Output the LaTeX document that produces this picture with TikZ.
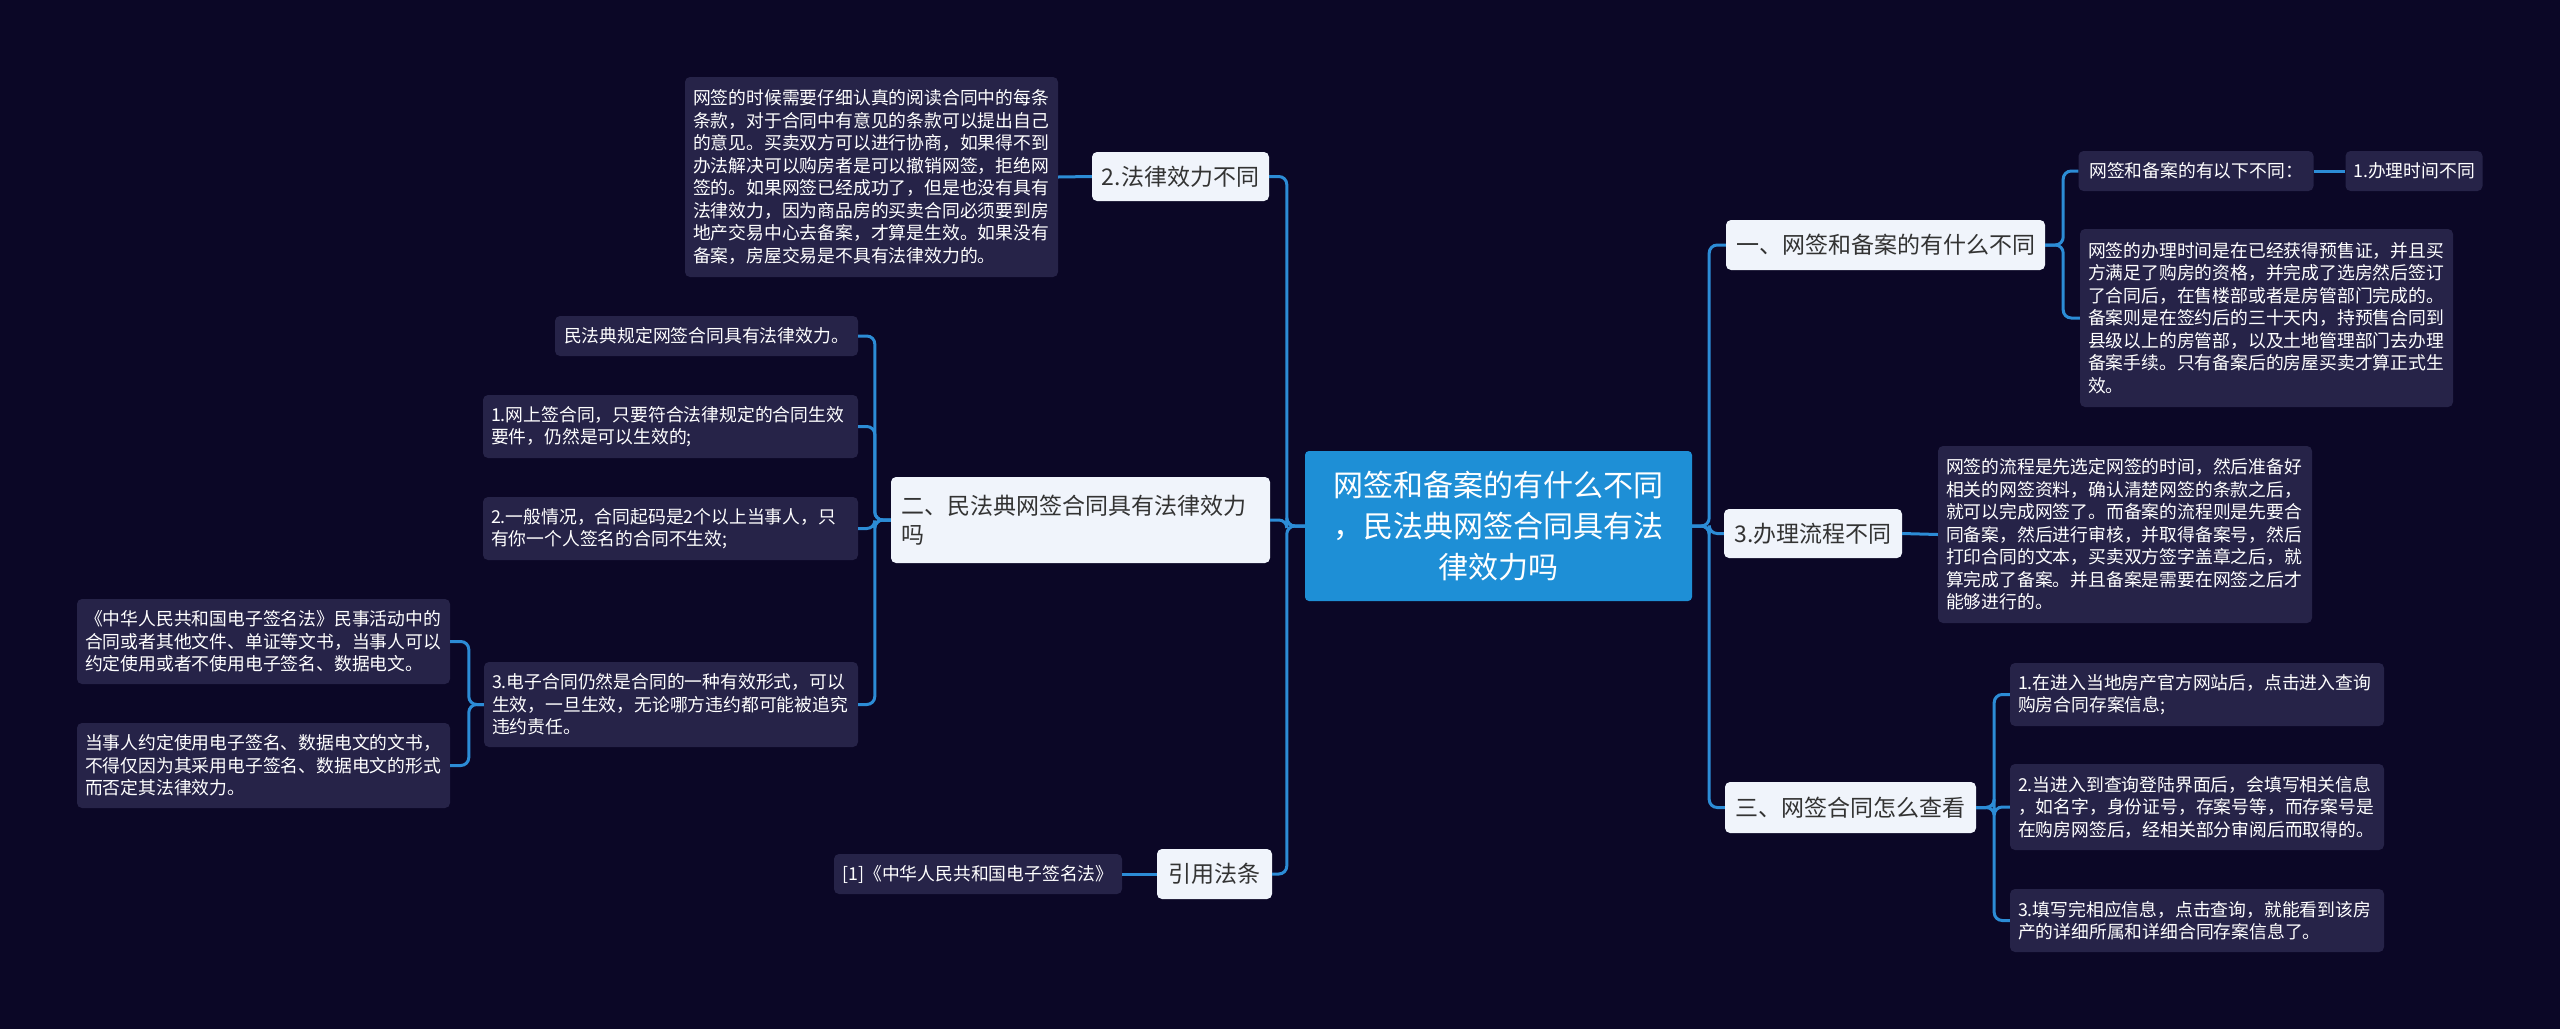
\documentclass[tikz,border=0pt]{standalone}
\usepackage{fontspec}
\setmainfont{Noto Sans CJK SC}
\usepackage{tikz}
\usetikzlibrary{calc}

\definecolor{sfondo}{RGB}{11,7,38}
\definecolor{blu}{RGB}{30,143,214}
\definecolor{azzurro}{RGB}{44,140,214}
\definecolor{chiaro}{RGB}{240,244,251}
\definecolor{scuro}{RGB}{51,51,51}
\definecolor{viola}{RGB}{38,35,72}

\begin{document}
\begin{tikzpicture}[x=1pt,y=-1pt,
  radice/.style={fill=blu, text=white, rounded corners=4pt, align=center, inner sep=0pt, font=\fontsize{30}{41}\selectfont},
  ramo/.style={fill=chiaro, text=scuro, rounded corners=5pt, align=left, inner xsep=10pt, inner ysep=0pt, font=\fontsize{23}{29}\selectfont},
  foglia/.style={fill=viola, text=white, rounded corners=5pt, align=left, inner xsep=8pt, inner ysep=0pt, font=\fontsize{17.8}{22.5}\selectfont},
  linea/.style={draw=azzurro, line width=3pt, rounded corners=8pt}]

  % sfondo
  \fill[sfondo] (0,0) rectangle (2560,1029);
  \useasboundingbox (0,0) rectangle (2560,1029);

  % nodo centrale
  \node[radice, minimum width=387pt, minimum height=150pt, text width=350pt] (radice) at (1498.5,526)
    {网签和备案的有什么不同\\，民法典网签合同具有法\\律效力吗};

  % rami a destra
  \node[ramo, minimum width=319pt, minimum height=50pt, inner xsep=0pt] (b1) at (1885.5,245) {一、网签和备案的有什么不同};
  \node[ramo, minimum width=178pt, minimum height=49pt, inner xsep=0pt] (b3) at (1813,533.5) {3.办理流程不同};
  \node[ramo, minimum width=251pt, minimum height=51pt, inner xsep=0pt] (b4) at (1850.5,807.5) {三、网签合同怎么查看};

  % rami a sinistra
  \node[ramo, minimum width=177pt, minimum height=49pt, inner xsep=0pt] (b2) at (1180.5,176.5) {2.法律效力不同};
  \node[ramo, text width=359pt, minimum height=86pt] (b5) at (1080.5,520) {二、民法典网签合同具有法律效力\\吗};
  \node[ramo, minimum width=115pt, minimum height=50pt, inner xsep=0pt] (b6) at (1214.5,874) {引用法条};

  % foglie a destra
  \node[foglia, minimum width=235pt, minimum height=40pt] (l1) at (2196,171) {网签和备案的有以下不同：};
  \node[foglia, minimum width=137pt, minimum height=40pt, inner xsep=0pt] (l1a) at (2414,171) {1.办理时间不同};
  \node[foglia, text width=357pt, minimum height=178pt] (l2) at (2266.5,318)
    {网签的办理时间是在已经获得预售证，并且买\\方满足了购房的资格，并完成了选房然后签订\\了合同后，在售楼部或者是房管部门完成的。\\备案则是在签约后的三十天内，持预售合同到\\县级以上的房管部，以及土地管理部门去办理\\备案手续。只有备案后的房屋买卖才算正式生\\效。};
  \node[foglia, text width=358pt, minimum height=177pt] (l3) at (2125,534.5)
    {网签的流程是先选定网签的时间，然后准备好\\相关的网签资料，确认清楚网签的条款之后，\\就可以完成网签了。而备案的流程则是先要合\\同备案，然后进行审核，并取得备案号，然后\\打印合同的文本，买卖双方签字盖章之后，就\\算完成了备案。并且备案是需要在网签之后才\\能够进行的。};
  \node[foglia, text width=358pt, minimum height=63pt] (l4) at (2197,694.5)
    {1.在进入当地房产官方网站后，点击进入查询\\购房合同存案信息;};
  \node[foglia, text width=358pt, minimum height=86pt] (l5) at (2197,807)
    {2.当进入到查询登陆界面后，会填写相关信息\\，如名字，身份证号，存案号等，而存案号是\\在购房网签后，经相关部分审阅后而取得的。};
  \node[foglia, text width=358pt, minimum height=63pt] (l6) at (2197,920.5)
    {3.填写完相应信息，点击查询，就能看到该房\\产的详细所属和详细合同存案信息了。};

  % foglie a sinistra
  \node[foglia, text width=357pt, minimum height=200pt] (k1) at (871.5,177)
    {网签的时候需要仔细认真的阅读合同中的每条\\条款，对于合同中有意见的条款可以提出自己\\的意见。买卖双方可以进行协商，如果得不到\\办法解决可以购房者是可以撤销网签，拒绝网\\签的。如果网签已经成功了，但是也没有具有\\法律效力，因为商品房的买卖合同必须要到房\\地产交易中心去备案，才算是生效。如果没有\\备案，房屋交易是不具有法律效力的。};
  \node[foglia, minimum width=303pt, minimum height=40pt] (m1) at (706.5,336) {民法典规定网签合同具有法律效力。};
  \node[foglia, text width=359pt, minimum height=63pt] (m2) at (670.5,426.5)
    {1.网上签合同，只要符合法律规定的合同生效\\要件，仍然是可以生效的;};
  \node[foglia, text width=359pt, minimum height=63pt] (m3) at (670.5,528.5)
    {2.一般情况，合同起码是2个以上当事人，只\\有你一个人签名的合同不生效;};
  \node[foglia, text width=358pt, minimum height=85pt] (m4) at (671,704.5)
    {3.电子合同仍然是合同的一种有效形式，可以\\生效，一旦生效，无论哪方违约都可能被追究\\违约责任。};
  \node[foglia, text width=357pt, minimum height=85pt] (n1) at (263.5,641.5)
    {《中华人民共和国电子签名法》民事活动中的\\合同或者其他文件、单证等文书，当事人可以\\约定使用或者不使用电子签名、数据电文。};
  \node[foglia, text width=357pt, minimum height=85pt] (n2) at (263.5,765.5)
    {当事人约定使用电子签名、数据电文的文书，\\不得仅因为其采用电子签名、数据电文的形式\\而否定其法律效力。};
  \node[foglia, minimum width=288pt, minimum height=40pt] (r1) at (978,874) {[1]《中华人民共和国电子签名法》};

  % collegamenti a destra
  \draw[linea] (radice.east) -- ++(17,0) |- (b1.west);
  \draw[linea] (radice.east) -- ++(17,0) |- (b3.west);
  \draw[linea] (radice.east) -- ++(17,0) |- (b4.west);
  \draw[linea] (b1.east) -- ++(18,0) |- (l1.west);
  \draw[linea] (b1.east) -- ++(18,0) |- (l2.west);
  \draw[linea] (l1.east) -- (l1a.west);
  \draw[linea] (b3.east) -- (l3.west);
  \draw[linea] (b4.east) -- ++(18,0) |- (l4.west);
  \draw[linea] (b4.east) -- ++(18,0) |- (l5.west);
  \draw[linea] (b4.east) -- ++(18,0) |- (l6.west);

  % collegamenti a sinistra
  \draw[linea] (radice.west) -- ++(-18,0) |- (b2.east);
  \draw[linea] (radice.west) -- ++(-18,0) |- (b5.east);
  \draw[linea] (radice.west) -- ++(-18,0) |- (b6.east);
  \draw[linea] (b2.west) -- (k1.east);
  \draw[linea] (b5.west) -- ++(-16,0) |- (m1.east);
  \draw[linea] (b5.west) -- ++(-16,0) |- (m2.east);
  \draw[linea] (b5.west) -- ++(-16,0) |- (m3.east);
  \draw[linea] (b5.west) -- ++(-16,0) |- (m4.east);
  \draw[linea] (m4.west) -- ++(-15,0) |- (n1.east);
  \draw[linea] (m4.west) -- ++(-15,0) |- (n2.east);
  \draw[linea] (b6.west) -- (r1.east);
\end{tikzpicture}
\end{document}
